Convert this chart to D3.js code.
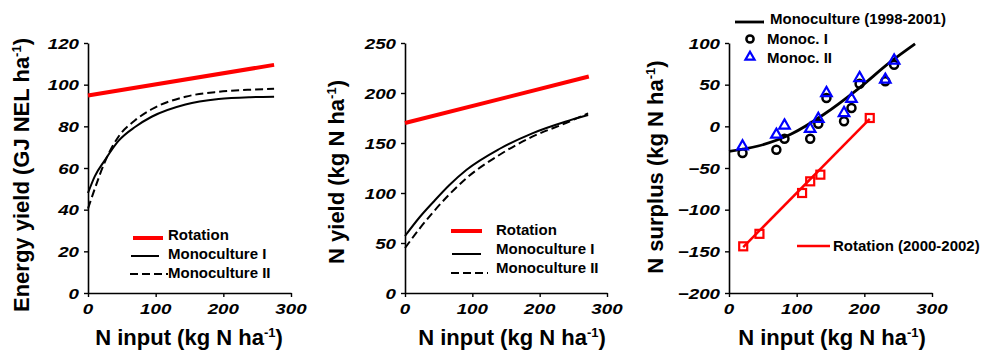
<!DOCTYPE html>
<html>
<head>
<meta charset="utf-8">
<script src="https://cdn.jsdelivr.net/npm/d3@7"></script>
<style>
  body { margin: 0; background: #fff; }
  svg text { font-family: Arial, "Liberation Sans", Helvetica, sans-serif; font-weight: bold; fill: #000; }
</style>
</head>
<body>
<svg id="chart" width="985" height="351"></svg>
<script>
// ---- data ----
const xTicks = [0, 100, 200, 300];
const energyTicks = [0, 20, 40, 60, 80, 100, 120];
const nYieldTicks = [0, 50, 100, 150, 200, 250];
const surplusTicks = [-200, -150, -100, -50, 0, 50, 100];

// panel 1: energy yield
const energyN = [0, 10, 25, 45, 70, 94, 144, 193, 240, 275];
const energyMonoI = [48, 56, 63.8, 73, 79.8, 84.6, 90.5, 93.1, 94.0, 94.2];
const energyMonoII = [40.5, 50, 63, 75, 83, 88.2, 94.2, 96.6, 97.6, 98];
const energyRotN = [0, 275];
const energyRot = [94.8, 109.5];

// panel 2: N yield
const nYieldN = [0, 22, 42, 66, 91, 140, 189, 238, 272];
const nYieldMonoI = [57, 76, 91, 108, 123, 144, 159.7, 171.3, 178];
const nYieldMonoII = [45, 64.7, 81, 98.7, 114.7, 138, 156.3, 169.7, 179.7];
const nYieldRotN = [0, 273];
const nYieldRot = [170, 216.5];

// panel 3: N surplus
const surplusN = [20, 70, 82, 120, 132, 144, 170, 181, 193, 231, 244];
const surplusMonoI = [-32, -28, -15, -15, 3, 34, 6, 22, 51, 54, 74];
const surplusMonoII = [-24, -10, 1, -3, 9, 40, 16, 33, 58, 56, 79];
const monoFitN = [0, 43, 92, 141, 190, 239, 275];
const monoFit = [-30, -23.6, -9.2, 14.8, 44.4, 77.6, 99];
const rotPointsN = [21, 45, 108, 120, 135, 208];
const rotPoints = [-144, -129, -80, -66, -58, 10];
const rotFitN = [21, 208];
const rotFit = [-145, 9];

const legendMain = ["Rotation", "Monoculture I", "Monoculture II"];
const legendSurplus = ["Monoculture (1998-2001)", "Monoc. I", "Monoc. II", "Rotation (2000-2002)"];

const RED = "#ff0000", BLUE = "#0000ff";
const svg = d3.select("#chart");
const zip = (xs, ys) => xs.map((x, i) => [x, ys[i]]);
const WIDE = 1.25; // tick digits in the figure are wider than normal glyphs

// title text with the "-1" superscript
function unitTitle(g, main, x, y, rotate) {
  const t = g.append("text")
    .attr("text-anchor", "middle")
    .attr("font-size", 22)
    .attr("transform", `translate(${x},${y})` + (rotate ? " rotate(-90)" : ""));
  t.append("tspan").text(main);
  t.append("tspan").attr("font-size", 13).attr("dy", -8).text("-1");
  t.append("tspan").attr("dy", 8).text(")");
}

function tickLabel(g, px, py, anchor, label) {
  g.append("text")
    .attr("transform", `translate(${px},${py}) scale(${WIDE},1)`)
    .attr("text-anchor", anchor)
    .attr("font-size", 15)
    .attr("font-style", "italic")
    .text(label);
}

function panel(xRange, yDomain, yTicks) {
  const x = d3.scaleLinear().domain([0, 300]).range(xRange);
  const y = d3.scaleLinear().domain(yDomain).range([293, 43]);
  const g = svg.append("g");

  const xa = g.append("g").attr("transform", "translate(0,293)")
    .call(d3.axisBottom(x).tickValues(xTicks).tickSize(4).tickSizeOuter(0).tickFormat(""));
  const ya = g.append("g").attr("transform", `translate(${xRange[0]},0)`)
    .call(d3.axisLeft(y).tickValues(yTicks).tickSize(4).tickSizeOuter(0).tickFormat(""));
  [xa, ya].forEach(a => {
    a.select(".domain").attr("stroke", "#000").attr("stroke-width", 1.6);
    a.selectAll(".tick line").attr("stroke", "#000").attr("stroke-width", 1.4);
    a.selectAll(".tick text").remove();
  });

  xTicks.forEach(v => tickLabel(g, x(v), 314, "middle", d3.format("d")(v)));
  yTicks.forEach(v => tickLabel(g, xRange[0] - 9, y(v) + 5.5, "end", d3.format("d")(v)));
  return { g, x, y };
}

function legendLine(g, x1, x2, y, color, width, dash) {
  g.append("line").attr("x1", x1).attr("x2", x2).attr("y1", y).attr("y2", y)
    .attr("stroke", color).attr("stroke-width", width)
    .attr("stroke-dasharray", dash || null);
}
function legendText(g, x, y, label) {
  g.append("text").attr("x", x).attr("y", y).attr("font-size", 15).text(label);
}

const curve = d3.line().curve(d3.curveMonotoneX);

// ---- panel 1 ----
{
  const { g, x, y } = panel([88, 291], [0, 120], energyTicks);
  const line = curve.x(d => x(d[0])).y(d => y(d[1]));
  g.append("path").attr("d", line(zip(energyN, energyMonoII)))
    .attr("fill", "none").attr("stroke", "#000").attr("stroke-width", 2).attr("stroke-dasharray", "8,4");
  g.append("path").attr("d", line(zip(energyN, energyMonoI)))
    .attr("fill", "none").attr("stroke", "#000").attr("stroke-width", 2);
  g.append("path").attr("d", line(zip(energyRotN, energyRot)))
    .attr("fill", "none").attr("stroke", RED).attr("stroke-width", 4);

  legendLine(g, 133, 163, 238, RED, 4);
  legendText(g, 168, 240, legendMain[0]);
  legendLine(g, 131, 159, 256, "#000", 2);
  legendText(g, 168, 259, legendMain[1]);
  legendLine(g, 130, 168, 274, "#000", 2, "8,4");
  legendText(g, 168, 278, legendMain[2]);

  unitTitle(g, "Energy yield (GJ NEL ha", 29, 175, true);
  unitTitle(g, "N input (kg N ha", 189, 345, false);
}

// ---- panel 2 ----
{
  const { g, x, y } = panel([405, 607], [0, 250], nYieldTicks);
  const line = curve.x(d => x(d[0])).y(d => y(d[1]));
  g.append("path").attr("d", line(zip(nYieldN, nYieldMonoII)))
    .attr("fill", "none").attr("stroke", "#000").attr("stroke-width", 2).attr("stroke-dasharray", "8,4");
  g.append("path").attr("d", line(zip(nYieldN, nYieldMonoI)))
    .attr("fill", "none").attr("stroke", "#000").attr("stroke-width", 2);
  g.append("path").attr("d", line(zip(nYieldRotN, nYieldRot)))
    .attr("fill", "none").attr("stroke", RED).attr("stroke-width", 4);

  legendLine(g, 451, 482, 231, RED, 4);
  legendText(g, 496, 235, legendMain[0]);
  legendLine(g, 452, 481, 254, "#000", 2);
  legendText(g, 496, 254, legendMain[1]);
  legendLine(g, 451, 488, 273, "#000", 2, "8,4");
  legendText(g, 496, 273, legendMain[2]);

  unitTitle(g, "N yield (kg N ha", 344, 172, true);
  unitTitle(g, "N input (kg N ha", 512, 345, false);
}

// ---- panel 3 ----
{
  const { g, x, y } = panel([729, 932], [-200, 100], surplusTicks);
  const line = curve.x(d => x(d[0])).y(d => y(d[1]));

  g.append("path").attr("d", line(zip(rotFitN, rotFit)))
    .attr("fill", "none").attr("stroke", RED).attr("stroke-width", 2.5);
  g.append("path").attr("d", line(zip(monoFitN, monoFit)))
    .attr("fill", "none").attr("stroke", "#000").attr("stroke-width", 2.8);

  const tri = d3.symbol().type(d3.symbolTriangle).size(48);
  g.selectAll("circle.m1").data(zip(surplusN, surplusMonoI)).enter().append("circle")
    .attr("cx", d => x(d[0])).attr("cy", d => y(d[1])).attr("r", 4)
    .attr("fill", "none").attr("stroke", "#000").attr("stroke-width", 2.5);
  g.selectAll("path.m2").data(zip(surplusN, surplusMonoII)).enter().append("path")
    .attr("d", tri).attr("transform", d => `translate(${x(d[0])},${y(d[1])})`)
    .attr("fill", "none").attr("stroke", BLUE).attr("stroke-width", 2.2);
  g.selectAll("rect.r").data(zip(rotPointsN, rotPoints)).enter().append("rect")
    .attr("x", d => x(d[0]) - 4).attr("y", d => y(d[1]) - 4)
    .attr("width", 8).attr("height", 8)
    .attr("fill", "none").attr("stroke", RED).attr("stroke-width", 2.2);

  legendLine(g, 735, 764, 22, "#000", 2.8);
  legendText(g, 770, 24, legendSurplus[0]);
  g.append("circle").attr("cx", 750).attr("cy", 39).attr("r", 3.6)
    .attr("fill", "none").attr("stroke", "#000").attr("stroke-width", 2.5);
  legendText(g, 767, 44, legendSurplus[1]);
  g.append("path").attr("d", d3.symbol().type(d3.symbolTriangle).size(36)).attr("transform", "translate(750,57)")
    .attr("fill", "none").attr("stroke", BLUE).attr("stroke-width", 2.2);
  legendText(g, 767, 63, legendSurplus[2]);
  legendLine(g, 797, 830, 246, RED, 2.5);
  legendText(g, 833, 251, legendSurplus[3]);

  unitTitle(g, "N surplus (kg N ha", 663, 167, true);
  unitTitle(g, "N input (kg N ha", 832, 345, false);
}
</script>
</body>
</html>
